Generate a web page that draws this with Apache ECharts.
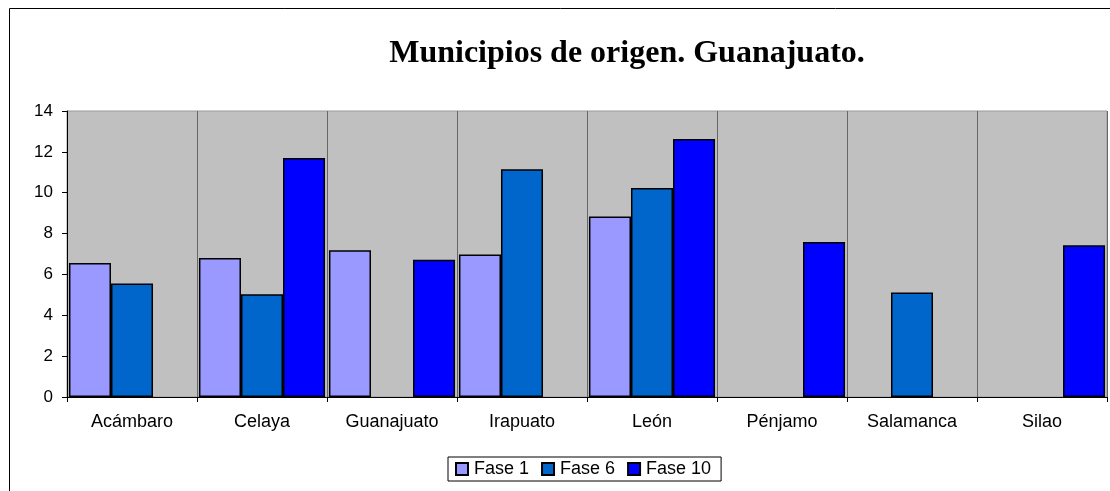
<!DOCTYPE html>
<html>
<head>
<meta charset="utf-8">
<script src="https://cdn.jsdelivr.net/npm/echarts@6/dist/echarts.min.js"></script>
<style>
  html, body { margin: 0; padding: 0; background: #fff; }
  #chart { width: 1110px; height: 491px; }
</style>
</head>
<body>
<div id="chart"></div>
<script>
var municipios = ['Acámbaro', 'Celaya', 'Guanajuato', 'Irapuato', 'León', 'Pénjamo', 'Salamanca', 'Silao'];
var fase1 = [6.56, 6.8, 7.18, 6.97, 8.83, null, null, null];
var fase6 = [5.56, 5.03, null, 11.15, 10.23, null, 5.11, null];
var fase10 = [null, 11.7, 6.72, null, 12.63, 7.59, null, 7.43];

var myChart = echarts.init(document.getElementById('chart'));

var barStyle = function(color) {
	return { color: color, borderColor: '#000', borderWidth: 1.5 };
};

var option = {
	animation: false,
	backgroundColor: '#fff',
	title: {
		text: 'Municipios de origen. Guanajuato.',
		left: 622,
		top: 33,
		textAlign: 'center',
		textStyle: {
			fontFamily: 'Liberation Serif',
			fontWeight: 'bold',
			fontSize: 32,
			color: '#000'
		}
	},
	// marco del grafico
	graphic: [{
		type: 'rect',
		shape: { x: 9.5, y: 8.5, width: 1200, height: 600 },
		style: { fill: 'none', stroke: '#000', lineWidth: 1 },
		silent: true
	}],
	legend: {
		left: 448,
		top: 457,
		itemWidth: 12,
		itemHeight: 12,
		itemGap: 12,
		padding: [3, 10, 3, 7],
		borderColor: '#000',
		borderWidth: 1,
		borderRadius: 0,
		icon: 'rect',
		textStyle: { fontFamily: 'Liberation Sans', fontSize: 18, color: '#000', padding: [0, 0, 0, 1] },
		data: ['Fase 1', 'Fase 6', 'Fase 10']
	},
	grid: {
		left: 67,
		right: 3,
		top: 111,
		bottom: 94,
		show: true,
		backgroundColor: '#C0C0C0',
		borderColor: '#999',
		borderWidth: 1
	},
	xAxis: {
		type: 'category',
		data: municipios,
		axisLine: { lineStyle: { color: '#000', width: 1 } },
		axisTick: { show: true, length: 5, lineStyle: { color: '#000' } },
		axisLabel: { fontFamily: 'Liberation Sans', fontSize: 18, color: '#000', margin: 16 },
		splitLine: { show: true, lineStyle: { color: '#666', width: 1 } }
	},
	yAxis: {
		type: 'value',
		min: 0,
		max: 14,
		interval: 2,
		axisLine: { show: true, lineStyle: { color: '#000', width: 1 } },
		axisTick: { show: true, length: 5, lineStyle: { color: '#000' } },
		axisLabel: { fontFamily: 'Liberation Sans', fontSize: 17, color: '#000', margin: 14 },
		splitLine: { show: false }
	},
	series: [{
		name: 'Fase 1',
		type: 'bar',
		data: fase1,
		barGap: '0%',
		barCategoryGap: '3%',
		itemStyle: barStyle('#9999FF')
	}, {
		name: 'Fase 6',
		type: 'bar',
		data: fase6,
		barGap: '0%',
		barCategoryGap: '3%',
		itemStyle: barStyle('#0066CC')
	}, {
		name: 'Fase 10',
		type: 'bar',
		data: fase10,
		barGap: '0%',
		barCategoryGap: '3%',
		itemStyle: barStyle('#0000FF')
	}]
};

myChart.setOption(option);
</script>
</body>
</html>
